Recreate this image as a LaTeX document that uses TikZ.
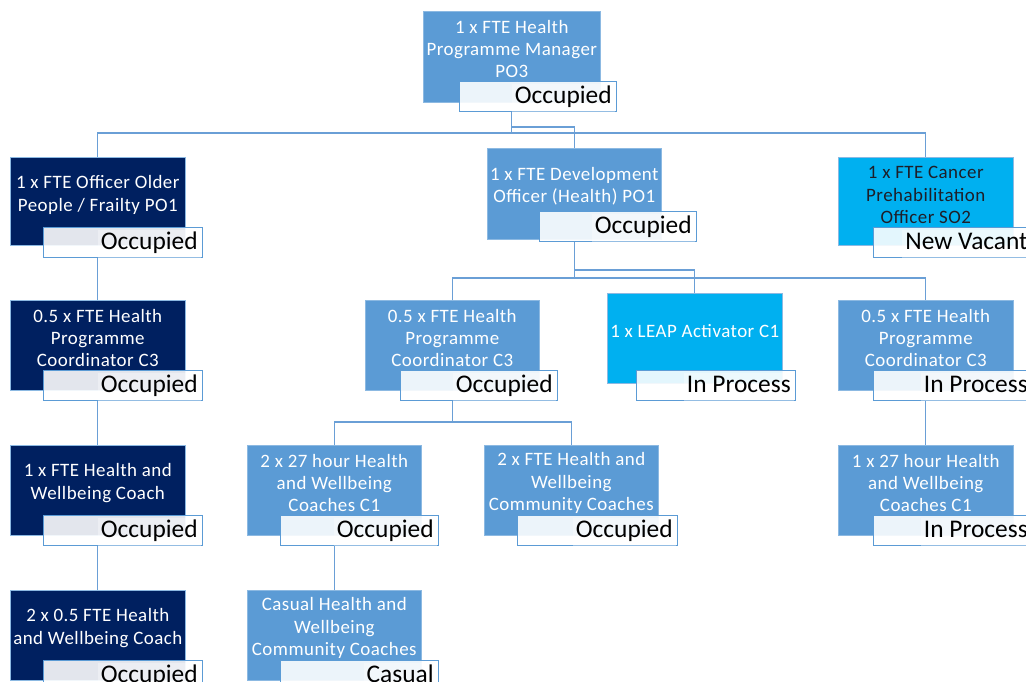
\documentclass[tikz,border=0pt]{standalone}
\usepackage{fontspec}
\setmainfont{Carlito}
\newfontfamily\boxfont[LetterSpace=2.5]{Carlito}
\definecolor{medblue}{HTML}{5B9BD5}
\definecolor{navy}{HTML}{002060}
\definecolor{cyanbox}{HTML}{00B0F0}
\definecolor{linec}{HTML}{6A9FD6}
\definecolor{darktext}{HTML}{1E1E28}
\tikzset{
  mainbox/.style={rectangle, anchor=north west, inner sep=0pt, draw=medblue!70!white, line width=0.6bp},
  boxtext/.style={align=center, inner sep=0pt, font=\boxfont\fontsize{19}{22.5}\selectfont},
  statbox/.style={rectangle, anchor=north west, inner sep=0pt, minimum height=30bp, draw=medblue, line width=0.9bp, fill=white, fill opacity=0.89},
  stattext/.style={anchor=east, inner xsep=3bp, inner ysep=0pt, minimum height=28bp, fill=white, fill opacity=0.35, text opacity=1, text=black, font=\fontsize{25.5}{28}\selectfont},
  conn/.style={draw=linec, line width=1.3bp}
}
% name, x, y, w, h, fill, textcolor, text
\newcommand\obox[8]{%
  \node[mainbox, fill=#6, minimum width=#4bp, minimum height=#5bp] (#1) at (#2,#3) {};
  \node[boxtext, text=#7] (#1t) at ([yshift=-38bp]#1.north) {#8};}
% name, x, y, w, text
\newcommand\ostat[5]{%
  \node[statbox, minimum width=#4bp] (#1) at (#2,#3) {};
  \node[stattext] (#1t) at ([xshift=-2bp,yshift=-1.5bp]#1.east) {\strut #5};}
\begin{document}
\begin{tikzpicture}[x=1bp,y=-1bp]
\useasboundingbox (0,0) rectangle (1026,682);
\clip (0,0) rectangle (1026,682);
% boxes
\obox{top}{423}{11}{177}{91}{medblue}{white}{1 x FTE Health\\Programme Manager\\PO3}
\obox{lone}{10}{157}{175}{88}{navy}{white}{1 x FTE Officer Older\\People / Frailty PO1}
\obox{ltwo}{10}{300}{175}{90}{navy}{white}{0.5 x FTE Health\\Programme\\Coordinator C3}
\obox{lthree}{10}{445}{175}{90}{navy}{white}{1 x FTE Health and\\Wellbeing Coach}
\obox{lfour}{10}{590}{175}{90}{navy}{white}{2 x 0.5 FTE Health\\and Wellbeing Coach}
\obox{dev}{487}{148}{174}{91}{medblue}{white}{1 x FTE Development\\Officer (Health) PO1}
\obox{cancer}{838}{157}{175}{88}{cyanbox}{darktext}{1 x FTE Cancer\\Prehabilitation\\Officer SO2}
\obox{midc}{365}{300}{174}{90}{medblue}{white}{0.5 x FTE Health\\Programme\\Coordinator C3}
\obox{leap}{607}{293}{175}{90}{cyanbox}{white}{1 x LEAP Activator C1}
\obox{rightc}{838}{300}{175}{90}{medblue}{white}{0.5 x FTE Health\\Programme\\Coordinator C3}
\obox{hrtw}{247}{445}{174}{90}{medblue}{white}{2 x 27 hour Health\\and Wellbeing\\Coaches C1}
\obox{comm}{484}{445}{174}{90}{medblue}{white}{2 x FTE Health and\\Wellbeing\\Community Coaches}
\obox{rhr}{838}{445}{175}{90}{medblue}{white}{1 x 27 hour Health\\and Wellbeing\\Coaches C1}
\obox{casual}{247}{590}{174}{90}{medblue}{white}{Casual Health and\\Wellbeing\\Community Coaches}
% status boxes
\ostat{tops}{459}{81}{157}{Occupied}
\ostat{lones}{43}{227}{159}{Occupied}
\ostat{ltwos}{43}{370}{159}{Occupied}
\ostat{lthrees}{43}{515}{159}{Occupied}
\ostat{lfours}{43}{660}{159}{Occupied}
\ostat{devs}{539}{211}{157}{Occupied}
\ostat{cancers}{873}{227}{159}{New Vacant}
\ostat{midcs}{400}{370}{157}{Occupied}
\ostat{leaps}{636}{370}{159}{In Process}
\ostat{rightcs}{873}{370}{159}{In Process}
\ostat{hrtws}{280}{515}{158}{Occupied}
\ostat{comms}{517}{515}{160}{Occupied}
\ostat{rhrs}{873}{515}{159}{In Process}
\ostat{casuals}{280}{660}{158}{Casual}
% bus coordinates
\coordinate (busa) at (511,133);
\coordinate (busb) at (511,127);
\coordinate (busc) at (573,278);
\coordinate (busd) at (573,270);
\coordinate (buse) at (452,422);
% connectors
\draw[conn] (top.south |- tops.south) -- (top.south |- busa);
\draw[conn] (lone.north) -- (lone.north |- busa) -- (cancer.north |- busa) -- (cancer.north);
\draw[conn] (top.south |- busb) -- (dev.north |- busb) -- (dev.north);
\draw[conn] (dev.south |- devs.south) -- (dev.south |- busc);
\draw[conn] (midc.north) -- (midc.north |- busc) -- (rightc.north |- busc) -- (rightc.north);
\draw[conn] (dev.south |- busd) -- (leap.north |- busd) -- (leap.north);
\draw[conn] (midc.south |- midcs.south) -- (midc.south |- buse);
\draw[conn] (hrtw.north) -- (hrtw.north |- buse) -- (comm.north |- buse) -- (comm.north);
\draw[conn] (hrtw.south |- hrtws.south) -- (casual.north);
\draw[conn] (lone.south |- lones.south) -- (ltwo.north);
\draw[conn] (ltwo.south |- ltwos.south) -- (lthree.north);
\draw[conn] (lthree.south |- lthrees.south) -- (lfour.north);
\draw[conn] (rightc.south |- rightcs.south) -- (rhr.north);
\end{tikzpicture}
\end{document}
